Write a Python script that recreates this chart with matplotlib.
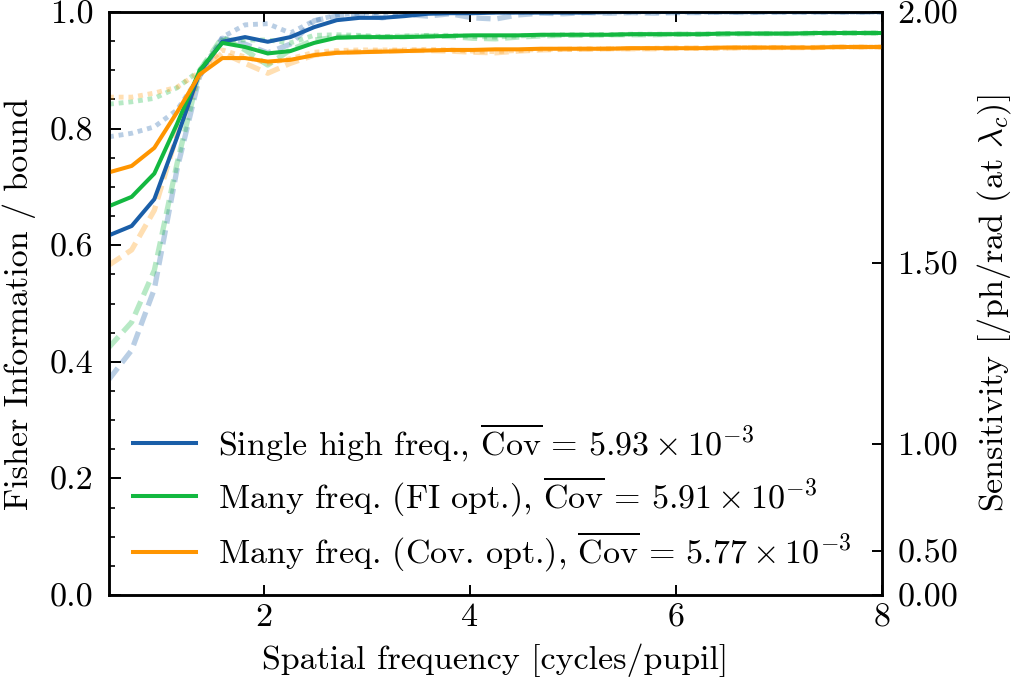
import matplotlib
matplotlib.use("Agg")
import matplotlib.pyplot as plt

plt.rcParams['font.family'] = 'serif'
plt.rcParams['font.serif'] = ['cmr10', 'DejaVu Serif']
plt.rcParams['mathtext.fontset'] = 'cm'
plt.rcParams['axes.formatter.use_mathtext'] = True
plt.rcParams['axes.unicode_minus'] = False

freq = [0.50, 0.72, 0.94, 1.16, 1.38, 1.60, 1.82, 2.04, 2.26, 2.49, 2.71, 2.93,
        3.15, 3.37, 3.59, 3.81, 4.03, 4.25, 4.47, 4.69, 4.91, 5.13, 5.35, 5.57,
        5.79, 6.01, 6.24, 6.46, 6.68, 6.90, 7.12, 7.34, 7.56, 7.78, 8.00]

blue_solid = [0.617, 0.633, 0.679, 0.785, 0.897, 0.949, 0.957, 0.949, 0.957, 0.974, 0.986, 0.990,
              0.990, 0.993, 0.997, 0.998, 0.998, 0.999, 0.999, 0.999, 0.999, 0.999, 1.0, 1.0,
              1.0, 1.0, 1.0, 1.0, 1.0, 1.0, 1.0, 1.0, 1.0, 1.0, 1.0]
blue_dash = [0.370, 0.420, 0.525, 0.730, 0.890, 0.955, 0.945, 0.930, 0.945, 0.985, 0.993, 0.997,
             0.990, 0.996, 0.993, 0.997, 0.990, 0.988, 0.995, 0.998, 0.997, 0.999, 0.998, 0.999,
             0.998, 0.999, 0.999, 1.0, 0.999, 1.0, 1.0, 1.0, 1.0, 1.0, 1.0]
blue_dot = [0.786, 0.792, 0.803, 0.832, 0.890, 0.957, 0.978, 0.980, 0.964, 0.985, 0.995, 0.998,
            0.999, 0.997, 0.999, 1.0, 0.999, 1.0, 1.0, 1.0, 1.0, 1.0, 1.0, 1.0,
            1.0, 1.0, 1.0, 1.0, 1.0, 1.0, 1.0, 1.0, 1.0, 1.0, 1.0]

green_solid = [0.667, 0.683, 0.723, 0.808, 0.900, 0.947, 0.940, 0.929, 0.933, 0.947, 0.956, 0.957,
               0.957, 0.957, 0.958, 0.959, 0.960, 0.960, 0.960, 0.961, 0.961, 0.961, 0.961, 0.962,
               0.962, 0.962, 0.962, 0.963, 0.963, 0.963, 0.963, 0.964, 0.964, 0.964, 0.964]
green_dash = [0.425, 0.468, 0.557, 0.740, 0.900, 0.957, 0.935, 0.909, 0.935, 0.952, 0.957, 0.958,
              0.957, 0.958, 0.959, 0.958, 0.955, 0.954, 0.957, 0.959, 0.960, 0.960, 0.961, 0.961,
              0.961, 0.962, 0.962, 0.962, 0.963, 0.963, 0.963, 0.963, 0.964, 0.964, 0.964]
green_dot = [0.842, 0.846, 0.852, 0.870, 0.900, 0.952, 0.952, 0.952, 0.947, 0.960, 0.961, 0.960,
             0.958, 0.959, 0.960, 0.960, 0.958, 0.957, 0.959, 0.960, 0.961, 0.961, 0.961, 0.962,
             0.962, 0.962, 0.962, 0.963, 0.963, 0.963, 0.963, 0.964, 0.964, 0.964, 0.964]

orange_solid = [0.725, 0.736, 0.767, 0.828, 0.893, 0.921, 0.921, 0.915, 0.918, 0.926, 0.930, 0.931,
                0.932, 0.933, 0.934, 0.935, 0.935, 0.936, 0.936, 0.937, 0.937, 0.937, 0.937, 0.938,
                0.938, 0.938, 0.938, 0.939, 0.939, 0.939, 0.939, 0.939, 0.940, 0.940, 0.940]
orange_dash = [0.566, 0.592, 0.660, 0.790, 0.893, 0.930, 0.912, 0.895, 0.912, 0.926, 0.931, 0.932,
               0.933, 0.934, 0.934, 0.933, 0.931, 0.930, 0.933, 0.935, 0.936, 0.936, 0.937, 0.937,
               0.937, 0.938, 0.938, 0.938, 0.939, 0.939, 0.939, 0.939, 0.940, 0.940, 0.940]
orange_dot = [0.854, 0.854, 0.861, 0.871, 0.897, 0.935, 0.923, 0.912, 0.920, 0.931, 0.934, 0.935,
              0.935, 0.935, 0.936, 0.935, 0.933, 0.932, 0.934, 0.936, 0.936, 0.937, 0.937, 0.937,
              0.938, 0.938, 0.938, 0.938, 0.939, 0.939, 0.939, 0.939, 0.940, 0.940, 0.940]

labels = [r'Single high freq., $\overline{\mathrm{Cov}} \,=\, 5.93 \times 10^{-3}$',
          r'Many freq. (FI opt.), $\overline{\mathrm{Cov}} \,=\, 5.91 \times 10^{-3}$',
          r'Many freq. (Cov. opt.), $\overline{\mathrm{Cov}} \,=\, 5.77 \times 10^{-3}$']
colors = ['#1a5ea8', '#13b840', '#ff9500']

sens_ticks = [0.0, 0.076, 0.2585, 0.569, 1.0]
sens_labels = ['0.00', '0.50', '1.00', '1.50', '2.00']

FS = 24.5

fig = plt.figure(figsize=(10.12, 6.83), dpi=100)
ax = fig.add_axes([0.1077, 0.1288, 0.7638, 0.8536])

series = [(blue_solid, blue_dash, blue_dot),
          (green_solid, green_dash, green_dot),
          (orange_solid, orange_dash, orange_dot)]

for (sol, dsh, dot), c in zip(series, colors):
    ax.plot(freq, dsh, color=c, alpha=0.3, lw=3.8, ls=(0, (2.7, 1.3)), zorder=2)
    ax.plot(freq, dot, color=c, alpha=0.3, lw=3.5, ls=(0, (1, 1)), zorder=2)
for (sol, dsh, dot), c, lab in zip(series, colors, labels):
    ax.plot(freq, sol, color=c, lw=2.9, label=lab, zorder=3)

ax.set_xlim(0.5, 8)
ax.set_ylim(0, 1)
ax.set_xticks([2, 4, 6, 8])
ax.set_xticklabels(['2', '4', '6', '8'])
ax.set_yticks([0.0, 0.2, 0.4, 0.6, 0.8, 1.0])
ax.set_yticklabels(['0.0', '0.2', '0.4', '0.6', '0.8', '1.0'])
ax.set_yticks([i * 0.05 for i in range(21)], minor=True)
ax.tick_params(axis='x', which='major', direction='in', labelsize=FS, width=1.4, length=7.5,
               pad=6, top=True, bottom=True)
ax.tick_params(axis='y', which='major', direction='in', labelsize=FS, width=1.4, length=8.5,
               pad=11, left=True, right=False)
ax.tick_params(axis='y', which='minor', direction='in', width=1.2, length=4.3,
               left=True, right=False)
for s in ax.spines.values():
    s.set_linewidth(1.8)

ax.set_xlabel('Spatial frequency [cycles/pupil]', fontsize=FS, labelpad=8)
ax.set_ylabel('Fisher Information / bound', fontsize=FS, labelpad=10)

ax2 = ax.twinx()
ax2.set_ylim(0, 1)
ax2.set_yticks(sens_ticks)
ax2.set_yticklabels(sens_labels)
ax2.tick_params(axis='y', direction='in', labelsize=FS, width=1.4, length=7.5, pad=11)
ax2.set_ylabel(r'Sensitivity [/ph/rad (at $\lambda_c$)]', fontsize=FS, labelpad=12)
for s in ax2.spines.values():
    s.set_linewidth(1.8)

leg = ax.legend(loc='lower left', frameon=False, fontsize=FS, handlelength=1.85,
                handletextpad=0.65, borderaxespad=0.3, labelspacing=0.32,
                bbox_to_anchor=(0.0, -0.005))

fig.savefig('out.png', dpi=100)
